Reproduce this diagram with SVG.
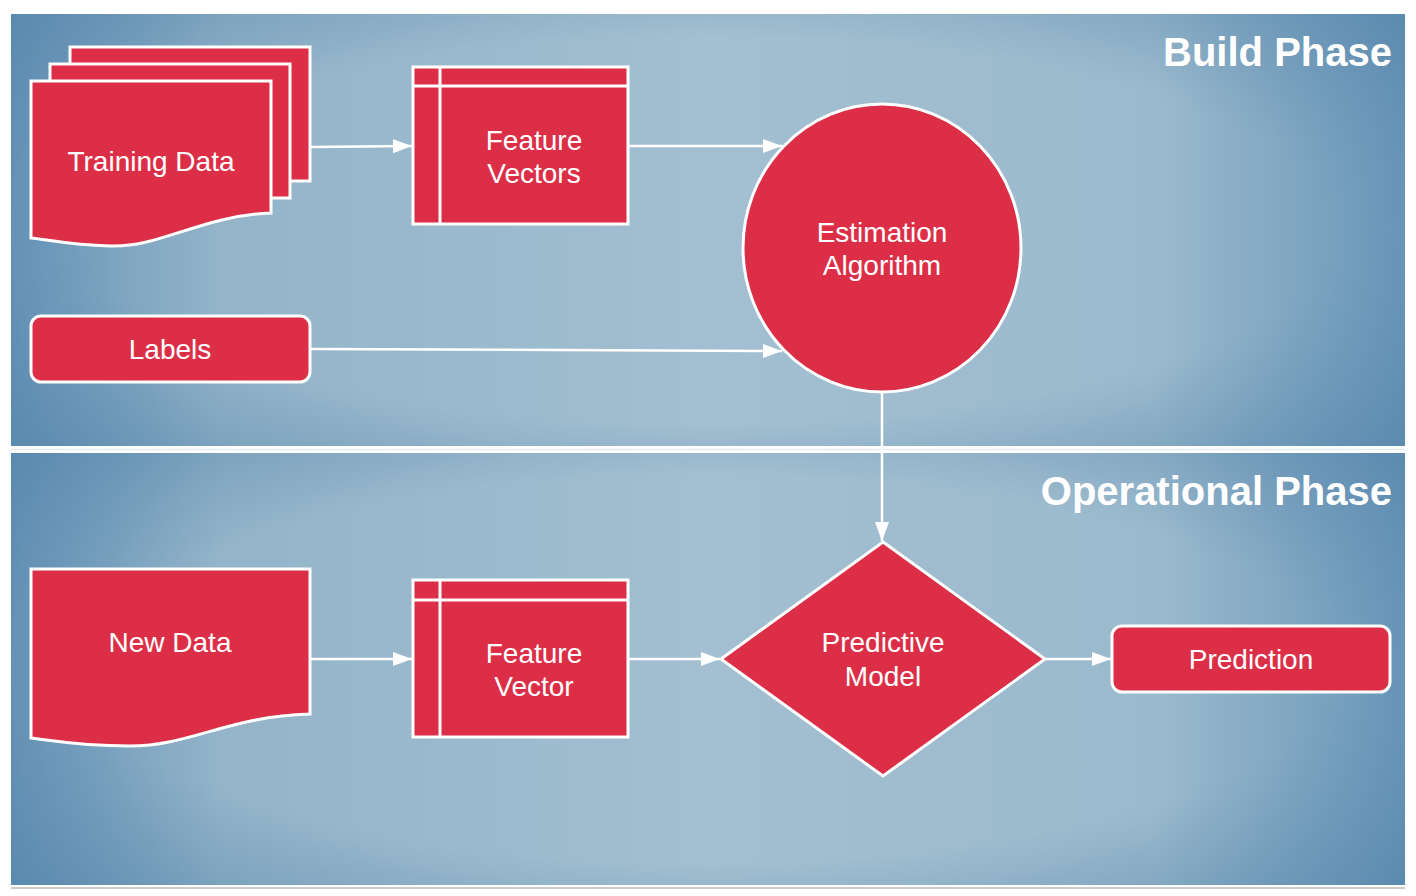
<svg xmlns="http://www.w3.org/2000/svg" width="1416" height="896" viewBox="0 0 1416 896">
<defs>
<linearGradient id="bgh" x1="0" y1="0" x2="1" y2="0">
<stop offset="0" stop-color="#6794b7"/>
<stop offset="0.15" stop-color="#93b4c9"/>
<stop offset="0.5" stop-color="#a3bfd1"/>
<stop offset="0.82" stop-color="#9bbacd"/>
<stop offset="1" stop-color="#6a97b9"/>
</linearGradient>
<radialGradient id="bgc" cx="0.5" cy="0.5" r="0.72">
<stop offset="0.62" stop-color="#4f80a8" stop-opacity="0"/>
<stop offset="1" stop-color="#4f80a8" stop-opacity="0.55"/>
</radialGradient>
<marker id="arr" markerWidth="20" markerHeight="16" refX="19" refY="8" orient="auto" markerUnits="userSpaceOnUse">
<path d="M0,1 L19,8 L0,15 Z" fill="#ffffff"/>
</marker>
<style>
.bg1{fill:url(#bgh)}
.bg2{fill:url(#bgc)}
.node{fill:#dc2f47;stroke:#ffffff;stroke-width:3}
.in{fill:none;stroke:#ffffff;stroke-width:3}
.lbl{font-family:"Liberation Sans",Arial,sans-serif;font-size:28px;fill:#ffffff;text-anchor:middle}
.title{font-family:"Liberation Sans",Arial,sans-serif;font-size:40px;font-weight:bold;fill:#ffffff;text-anchor:end}
.conn{fill:none;stroke:#ffffff;stroke-width:2.5;marker-end:url(#arr)}
</style>
</defs>
<rect x="0" y="0" width="1416" height="896" fill="#ffffff"/>
<rect class="bg1" x="11" y="14" width="1394" height="432"/>
<rect class="bg2" x="11" y="14" width="1394" height="432"/>
<rect class="bg1" x="11" y="453" width="1394" height="432"/>
<rect class="bg2" x="11" y="453" width="1394" height="432"/>
<line x1="11" y1="449.5" x2="1405" y2="449.5" stroke="#e6ecee" stroke-width="1.5"/>
<line x1="11" y1="888" x2="1405" y2="888" stroke="#c8ccce" stroke-width="2"/>
<text class="title" x="1392" y="66">Build Phase</text>
<text class="title" x="1392" y="505">Operational Phase</text>

<g id="connectors">
<path class="conn" d="M311,147 L412,146"/>
<path class="conn" d="M629,146 L782,146"/>
<path class="conn" d="M311,349 L782,351"/>
<path class="conn" d="M882,393 L882,541"/>
<path class="conn" d="M311,659 L412,659"/>
<path class="conn" d="M629,659 L720,659"/>
<path class="conn" d="M1046,659 L1111,659"/>
</g>

<g id="training-data">
<rect class="node" x="70" y="47" width="240" height="134"/>
<rect class="node" x="50" y="64" width="240" height="134"/>
<path class="node" d="M31,81 L271,81 L271,213 C200,216 160,248 110,246 C70,245 50,240 31,238 Z"/>
<text class="lbl" x="151" y="171">Training Data</text>
</g>

<g id="feature-vectors">
<rect class="node" x="413" y="67" width="215" height="157"/>
<line class="in" x1="413" y1="86" x2="628" y2="86"/>
<line class="in" x1="440" y1="67" x2="440" y2="224"/>
<text class="lbl" x="534" y="150">Feature</text>
<text class="lbl" x="534" y="183">Vectors</text>
</g>

<g id="estimation-algorithm">
<ellipse class="node" cx="882" cy="248" rx="139" ry="144"/>
<text class="lbl" x="882" y="242">Estimation</text>
<text class="lbl" x="882" y="275">Algorithm</text>
</g>

<g id="labels">
<rect class="node" x="31" y="316" width="279" height="66" rx="10"/>
<text class="lbl" x="170" y="359">Labels</text>
</g>

<g id="new-data">
<path class="node" d="M31,569 L310,569 L310,714 C230,716 190,746 130,746 C80,746 55,741 31,738 Z"/>
<text class="lbl" x="170" y="652">New Data</text>
</g>

<g id="feature-vector">
<rect class="node" x="413" y="580" width="215" height="157"/>
<line class="in" x1="413" y1="600" x2="628" y2="600"/>
<line class="in" x1="440" y1="580" x2="440" y2="737"/>
<text class="lbl" x="534" y="663">Feature</text>
<text class="lbl" x="534" y="696">Vector</text>
</g>

<g id="predictive-model">
<path class="node" d="M883,542 L1045,659 L883,776 L721,659 Z"/>
<text class="lbl" x="883" y="652">Predictive</text>
<text class="lbl" x="883" y="686">Model</text>
</g>

<g id="prediction">
<rect class="node" x="1112" y="626" width="278" height="66" rx="10"/>
<text class="lbl" x="1251" y="669">Prediction</text>
</g>
</svg>
